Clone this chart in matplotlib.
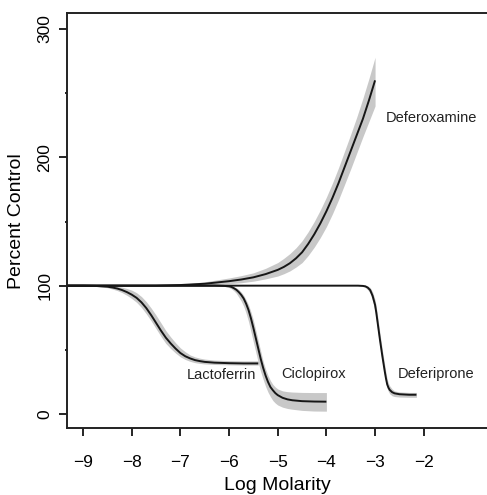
import matplotlib
matplotlib.use("Agg")
import matplotlib.pyplot as plt

plt.rcParams["font.family"] = ["Liberation Sans", "DejaVu Sans"]

# --- values (log molarity vs percent control) ---
lacto_x = [-9.5, -9, -8.75, -8.5, -8.4, -8.3, -8.2, -8.1, -8.0, -7.9, -7.8, -7.7, -7.6, -7.5,
           -7.4, -7.3, -7.2, -7.1, -7.0, -6.9, -6.8, -6.7, -6.6, -6.5, -6.3, -6.0, -5.7, -5.4]
lacto_y = [100, 100, 99.8, 99.2, 98.6, 97.8, 96.6, 95, 93, 90.5, 87, 82.5, 77, 71,
           65, 59.5, 55, 51, 47.5, 45, 43.3, 42, 41.2, 40.6, 40, 39.6, 39.4, 39.4]
lacto_hi = [100, 100, 100, 100, 99.8, 99.4, 98.8, 97.8, 96.5, 94.5, 91.5, 87.5, 82.5, 77,
            71, 65, 60, 55.5, 51.5, 48.5, 46, 44.5, 43.5, 42.8, 42, 41.6, 41.4, 41.4]
lacto_lo = [100, 100, 99.5, 98.4, 97.4, 96.2, 94.6, 92.5, 90, 87, 83, 78, 72.5, 66.5,
            60.5, 55, 51, 47.5, 44.5, 42.5, 41, 40, 39.4, 39, 38.6, 38.3, 38.1, 38.1]

ciclo_x = [-9.5, -6.3, -6.1, -6.0, -5.95, -5.9, -5.85, -5.8, -5.75, -5.7, -5.65, -5.6, -5.55, -5.5, -5.45,
           -5.4, -5.35, -5.3, -5.25, -5.2, -5.15, -5.1, -5.05, -5.0, -4.9, -4.8, -4.7, -4.5, -4.25, -4.0]
ciclo_y = [100, 100, 99.8, 99.5, 99, 98, 96.8, 95, 92.8, 90, 86, 81, 74.5, 67, 59,
           51, 43, 36, 30, 25, 21, 18.5, 16.3, 14.7, 12.6, 11.4, 10.7, 10, 9.7, 9.6]
ciclo_hi = [100, 100, 100, 100, 99.8, 99.2, 98.3, 97, 95, 92.5, 89, 85, 79.5, 73, 65,
            57, 49, 41, 35, 30, 26, 23, 21, 19.5, 18, 17.4, 17.1, 16.8, 16.7, 16.7]
ciclo_lo = [100, 100, 99.5, 98.5, 97.5, 96, 94, 91, 88, 84, 78.5, 72, 64, 56, 48,
            40, 33, 27, 21.5, 17, 13.5, 10.5, 8.5, 7, 5.3, 4.3, 3.7, 2.8, 2.3, 2.2]

deferi_x = [-9.5, -3.35, -3.25, -3.2, -3.15, -3.1, -3.05, -3.0, -2.975, -2.95, -2.925, -2.9, -2.875,
            -2.85, -2.825, -2.8, -2.775, -2.75, -2.725, -2.7, -2.65, -2.6, -2.5, -2.3, -2.15]
deferi_y = [100, 100, 99.8, 99.5, 98.5, 96.5, 92, 85, 79, 72, 65, 58, 51.5,
            45, 39, 33, 27.5, 23, 20.5, 18.8, 17, 16.1, 15.4, 15, 15]
deferi_hi = [100, 100, 100, 100, 99.6, 98.5, 95, 89, 83.5, 77, 70, 63, 56.5,
             50, 44, 38, 32, 27, 24, 22, 19.5, 18, 17.2, 16.8, 16.8]
deferi_lo = [100, 100, 99.3, 98.5, 96.8, 94, 88, 80, 73, 66, 59.5, 53, 46.5,
             40, 34, 29, 24, 20, 17.5, 15.8, 14.2, 13.6, 13.2, 13, 13]

deferox_x = [-9.5, -7.5, -7.0, -6.5, -6.0, -5.75, -5.5, -5.25, -5.0, -4.875, -4.75, -4.625, -4.5,
             -4.375, -4.25, -4.125, -4.0, -3.875, -3.75, -3.625, -3.5, -3.375, -3.25, -3.125, -3.0]
deferox_y = [100, 100, 100.5, 101.5, 103.5, 104.8, 106.5, 109, 112.3, 114.6, 117.5, 121.3, 126,
             132.5, 140, 148.5, 158, 168.5, 180, 192.5, 205, 217.5, 230, 244.5, 260]
deferox_hi = [100, 100, 101, 103, 106, 107.8, 110, 113.5, 118, 121.3, 125, 129.5, 135,
              142, 150, 159, 169, 180, 192, 205, 218, 231.5, 246, 261.5, 278]
deferox_lo = [100, 100, 100, 100.5, 101.5, 102.3, 103.5, 105.3, 107.5, 109.3, 111.5, 114.5, 118,
              123.5, 130, 137.5, 146, 156, 167, 179, 191, 203.5, 216, 228, 240]

x_ticks = [-9, -8, -7, -6, -5, -4, -3, -2]
y_ticks = [0, 100, 200, 300]
y_minor = [50, 150, 250]

labels = ["Lactoferrin", "Ciclopirox", "Deferiprone", "Deferoxamine"]
label_pos = [(-6.86, 30), (-4.92, 31), (-2.54, 31), (-2.78, 231)]

curves = [
    (lacto_x, lacto_y, lacto_lo, lacto_hi),
    (ciclo_x, ciclo_y, ciclo_lo, ciclo_hi),
    (deferi_x, deferi_y, deferi_lo, deferi_hi),
    (deferox_x, deferox_y, deferox_lo, deferox_hi),
]

fig = plt.figure(figsize=(4.87, 4.95), dpi=100)
ax = fig.add_axes([0.1376, 0.1354, 0.8624, 0.8376])

# grey confidence bands first, then the fitted curves on top
for x, y, lo, hi in curves:
    ax.fill_between(x, lo, hi, color="#c8c8c8", linewidth=0)
for x, y, lo, hi in curves:
    ax.plot(x, y, color="#161616", linewidth=1.4, solid_capstyle="butt", solid_joinstyle="round")

for text, (tx, ty) in zip(labels, label_pos):
    ax.text(tx, ty, text, fontsize=10.5, ha="left", va="center", color="#222222")

ax.set_xlim(-9.33, -0.70)
ax.set_ylim(-10.9, 312.2)

ax.set_xticks(x_ticks)
ax.set_xticklabels([str(t).replace("-", "\u2212") for t in x_ticks])
ax.set_yticks(y_ticks)
ax.set_yticks(y_minor, minor=True)
ax.tick_params(axis="x", length=5.5, width=1.2, pad=14, labelsize=12.5)
ax.tick_params(axis="y", length=5.5, width=1.2, pad=5, labelsize=12.5, labelrotation=90)
ax.tick_params(axis="y", which="minor", length=1.5, width=1.2)
for lab in ax.get_yticklabels():
    lab.set_va("center")

ax.spines["right"].set_visible(False)
for side in ["left", "top", "bottom"]:
    ax.spines[side].set_linewidth(1.4)
    ax.spines[side].set_color("#222222")

ax.set_xlabel("Log Molarity", fontsize=14, labelpad=5)
ax.set_ylabel("Percent Control", fontsize=14, labelpad=9)

fig.savefig("out.png", dpi=100)
